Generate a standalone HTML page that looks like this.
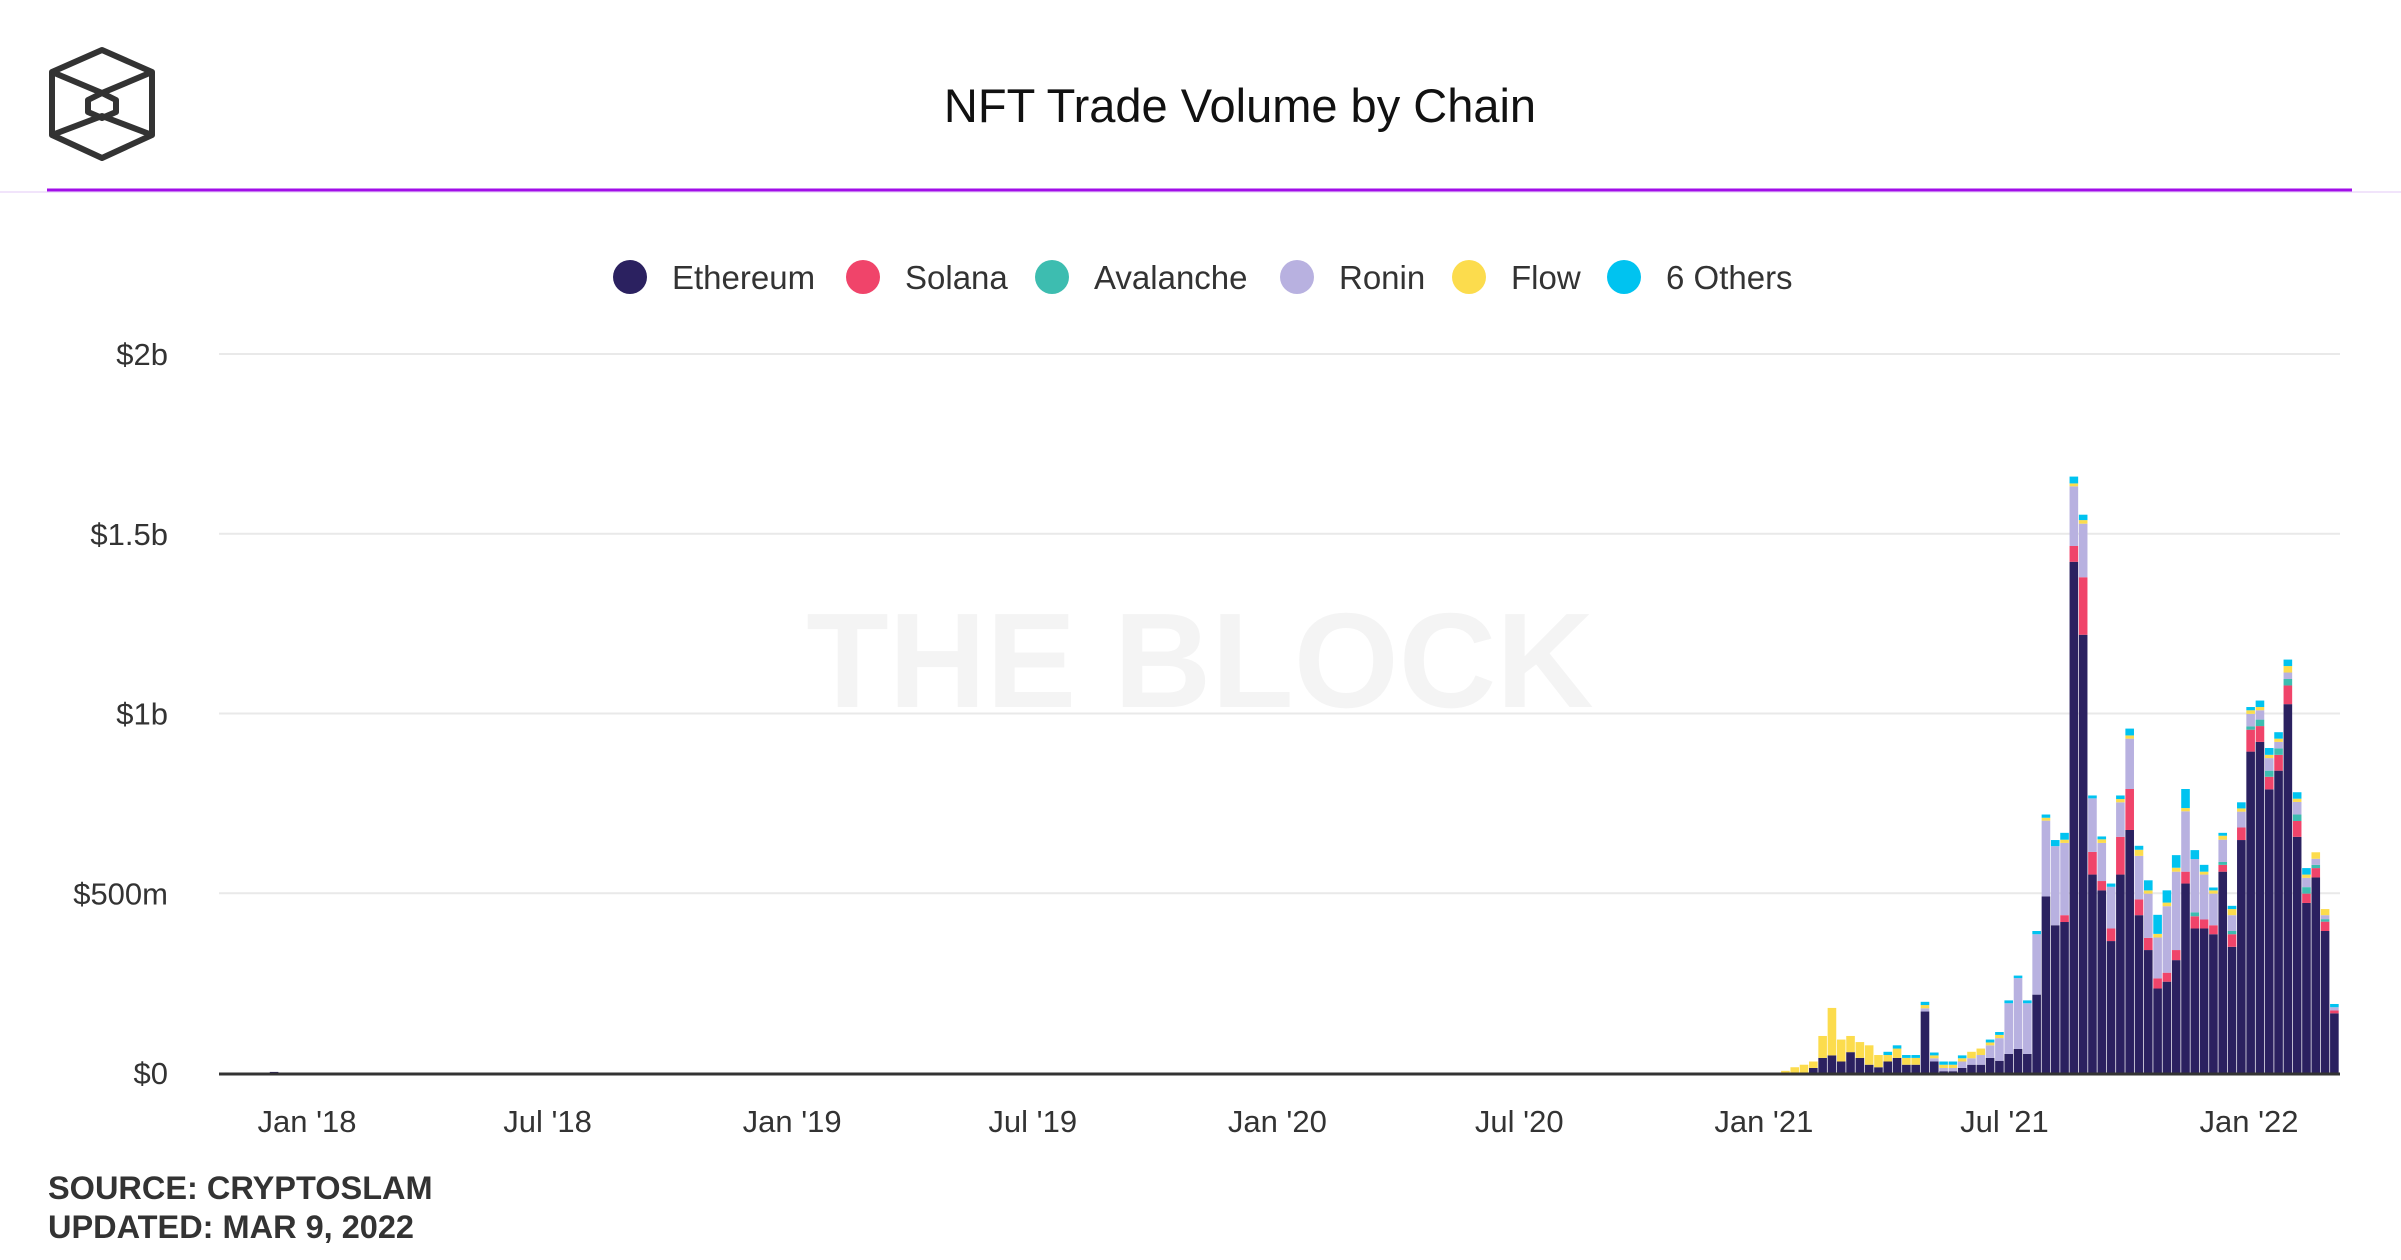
<!DOCTYPE html>
<html><head><meta charset="utf-8"><style>
html,body{margin:0;padding:0;background:#fff;}
svg{display:block;font-family:"Liberation Sans",sans-serif;}
</style></head><body>
<svg id="chart" width="2401" height="1260" viewBox="0 0 2401 1260" xmlns="http://www.w3.org/2000/svg">
  <g fill="none" stroke="#333" stroke-width="6" stroke-linejoin="round">
    <polygon points="102,50 152,72 152,135 102,158 52,135 52,72"/>
    <polyline points="52,72 102,93 152,72"/>
    <polyline points="52,135 102,116 152,135"/>
    <polygon points="102,93 116,100 116,112 102,118 88,112 88,100"/>
  </g>
  <text x="1240" y="122" text-anchor="middle" font-size="47" fill="#111">NFT Trade Volume by Chain</text>
  <line x1="0" y1="192" x2="2401" y2="192" stroke="#f1e4fb" stroke-width="2"/>
  <line x1="47" y1="190" x2="2352" y2="190" stroke="#a10ee8" stroke-width="3"/>
  <text x="1200" y="707" text-anchor="middle" font-size="135" font-weight="bold" fill="#f4f4f4">THE BLOCK</text>
  <g id="legend"></g>
  <g id="grid"></g>
  <g id="yaxis"></g>
  <g id="bars"></g>
  <g id="xaxis"></g>
  <text x="48" y="1199" font-size="32.5" font-weight="bold" fill="#333">SOURCE: CRYPTOSLAM</text>
  <text x="48" y="1238" font-size="32.5" font-weight="bold" fill="#333">UPDATED: MAR 9, 2022</text>
</svg>
<script>
const seriesNames = ['Ethereum','Solana','Avalanche','Ronin','Flow','6 Others'];
const seriesColors = ['#2b2160','#f0446a','#3dbdb0','#b8b1e0','#fcdc4d','#00c3f0'];
const firstWeek = '2017-12-04';
const weeklyStart = '2021-01-14';
const eth = [3, 0,0,0,14,42,49,32,58,42,23,16,32,42,23,23,171,32,5,5,14,23,23,42, 34,53,67,53,218,491,411,420,1422,1219,552,508,367,552,676,439,342,235,254,314,527,402,402,386,560,351,648,894,921,789,841,1026,657,473,544,395,166];
const sol = [0, 0,0,0,0,0,0,0,0,0,0,0,0,0,0,0,0,0,0,0,0,0,0,0, 0,0,0,0,0,0,0,19,44,160,63,26,35,105,114,44,34,28,25,28,33,34,25,25,19,35,35,61,44,35,44,52,44,26,26,26,8];
const ava = [0, 0,0,0,0,0,0,0,0,0,0,0,0,0,0,0,0,0,0,0,0,0,0,0, 0,0,0,0,0,0,0,0,0,0,0,0,0,0,0,0,0,0,0,0,0,11,0,0,8,9,0,9,18,17,18,18,18,18,9,7,0];
const ronin = [0, 0,0,0,0,0,0,0,0,0,0,0,0,0,0,0,9,9,9,9,18,18,27,35, 63,141,197,141,168,211,220,201,166,149,149,106,116,96,140,121,123,114,185,218,168,148,125,88,62,44,44,35,26,35,18,18,35,26,17,11,9];
const flow = [0, 6,16,23,18,61,132,61,45,44,54,34,18,26,19,19,9,8,9,9,9,18,18,8, 9,0,0,0,0,8,0,9,8,10,0,10,0,9,9,17,9,10,10,11,9,0,8,9,11,17,9,10,9,9,9,18,9,9,18,17,0];
const others = [0, 0,0,0,0,0,0,0,0,0,0,0,9,9,8,8,9,8,9,9,8,0,0,8, 8,8,7,8,9,9,17,19,19,15,8,8,9,10,19,11,28,53,34,35,53,25,19,8,8,9,17,9,18,19,18,18,18,18,0,0,9];
const yTicks = [0,500,1000,1500,2000];
const yTickLabels = ['$0','$500m','$1b','$1.5b','$2b'];
const xTickDates = ['2018-01-01','2018-07-01','2019-01-01','2019-07-01','2020-01-01','2020-07-01','2021-01-01','2021-07-01','2022-01-01'];
const xTickLabels = ["Jan '18","Jul '18","Jan '19","Jul '19","Jan '20","Jul '20","Jan '21","Jul '21","Jan '22"];

const NS='http://www.w3.org/2000/svg';
const DAY=86400000;
const t0=Date.parse('2018-01-01'), x0=307, pxPerDay=(2249-307)/1461;
function x(d){return x0+(Date.parse(d)-t0)/DAY*pxPerDay;}
function y(v){return 1073 - v/1000*359.5;}
function mk(tag,attrs,parent){const e=document.createElementNS(NS,tag);for(const k in attrs)e.setAttribute(k,attrs[k]);parent.appendChild(e);return e;}

const weeks=[firstWeek];
for(let i=0;i<eth.length-1;i++){weeks.push(new Date(Date.parse(weeklyStart)+i*7*DAY).toISOString().slice(0,10));}

const grid=document.getElementById('grid'), yaxis=document.getElementById('yaxis');
yTicks.forEach((v,i)=>{
  if(v>0){const g=mk('line',{x1:219,x2:2340,y1:y(v),y2:y(v),stroke:'#e9e9e9','stroke-width':2},grid);
  
  }
  const t=mk('text',{x:168,y:y(v)+11,'text-anchor':'end','font-size':31,fill:'#333'},yaxis);
  t.textContent=yTickLabels[i];
  
  
});

const series=[eth,sol,ava,ronin,flow,others];
const bars=document.getElementById('bars');
const bw=7*pxPerDay;
weeks.forEach((w,i)=>{
  let acc=0;
  const bx=x(w);
  series.forEach((s,k)=>{
    const v=s[i]; if(!v) return;
    const r=mk('rect',{x:bx.toFixed(2),y:y(acc+v).toFixed(2),width:(bw-0.7).toFixed(2),height:(y(acc)-y(acc+v)).toFixed(2),fill:seriesColors[k]},bars);
    
    
    acc+=v;
  });
});

const xaxis=document.getElementById('xaxis');
const ax=mk('line',{x1:219,x2:2340,y1:1074,y2:1074,stroke:'#333','stroke-width':3},xaxis);


xTickDates.forEach((d,i)=>{
  const t=mk('text',{x:x(d),y:1132,'text-anchor':'middle','font-size':31,fill:'#333'},xaxis);
  t.textContent=xTickLabels[i];
  
  
});

const legend=document.getElementById('legend');
const dotX=[630,863,1052,1297,1469,1624];
seriesNames.forEach((n,i)=>{
  const g=mk('g',{},legend);
  
  
  mk('circle',{cx:dotX[i],cy:277,r:17,fill:seriesColors[i]},g);
  const t=mk('text',{x:dotX[i]+42,y:289,'font-size':33,fill:'#333'},g);
  t.textContent=n;
});
</script>
</body></html>
